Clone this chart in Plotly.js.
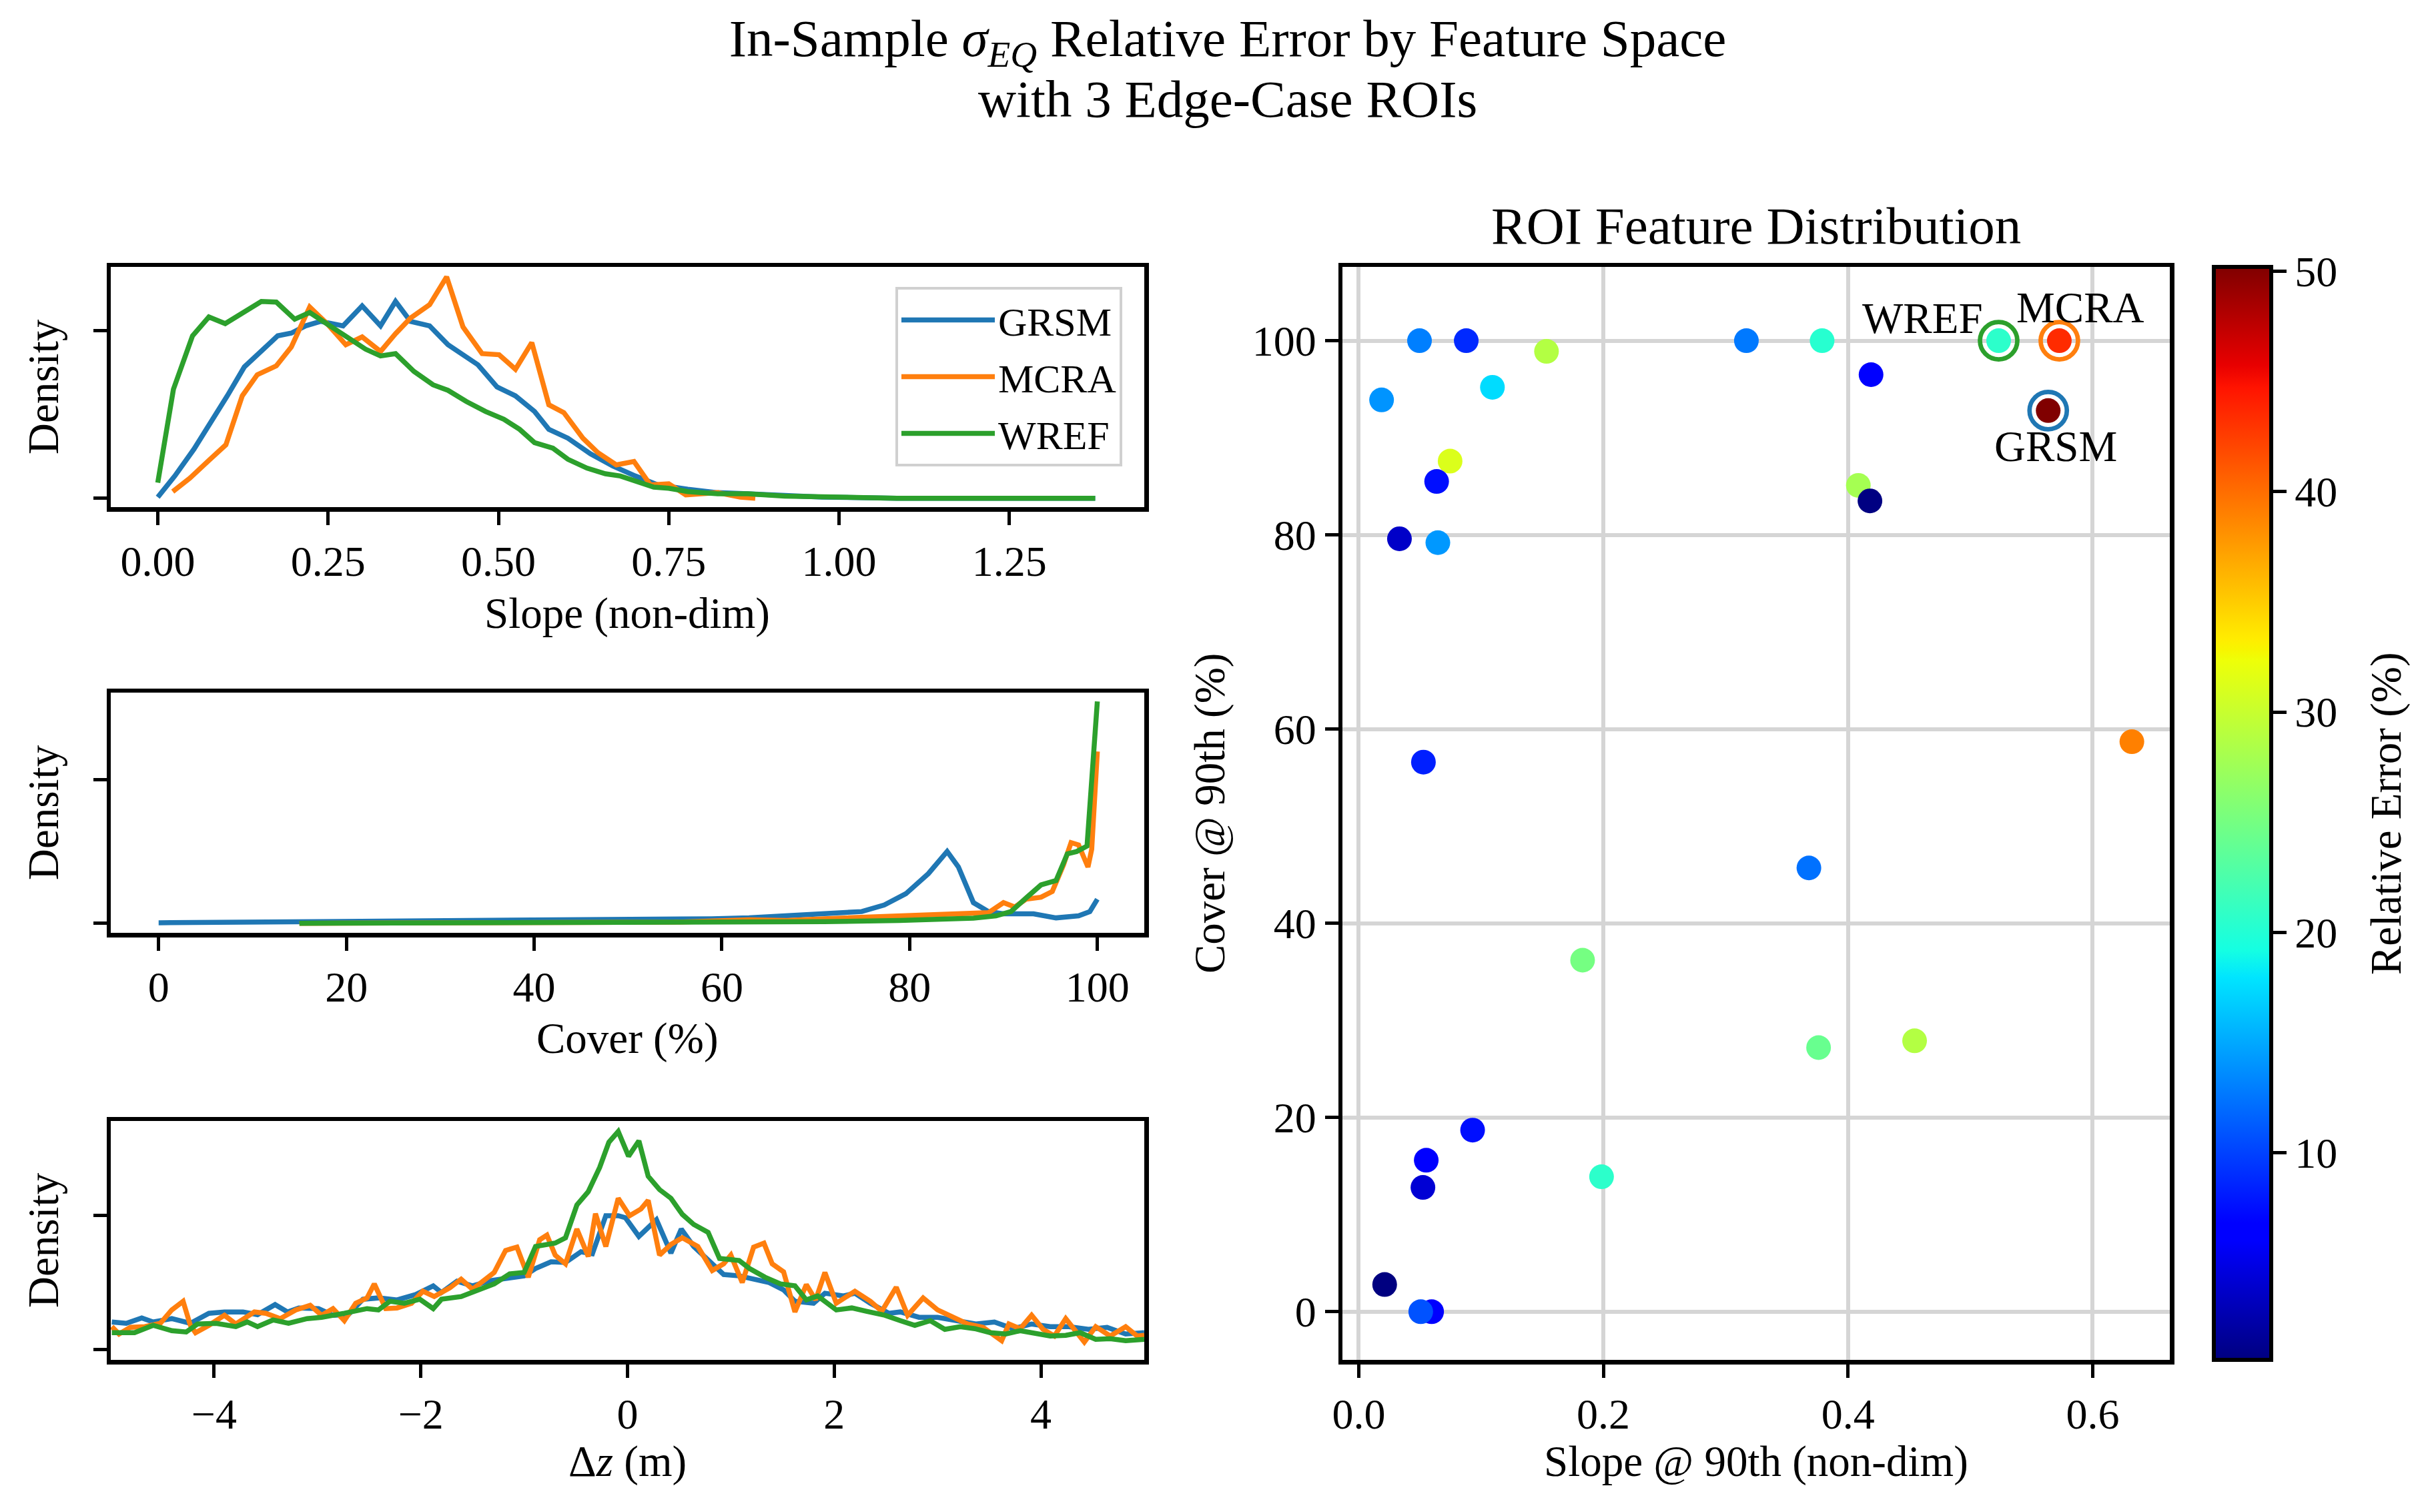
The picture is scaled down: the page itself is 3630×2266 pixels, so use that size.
<!DOCTYPE html>
<html>
<head>
<meta charset="utf-8">
<script src="https://cdn.plot.ly/plotly-3.0.1.min.js"></script>
<style>html,body{margin:0;padding:0;background:#fff;}#chart{width:3630px;height:2266px;}</style>
</head>
<body>
<div id="chart"></div>
<script>
// ---------- Data ----------
const seriesNames = ['GRSM', 'MCRA', 'WREF'];
const seriesColors = ['#1f77b4', '#ff7f0e', '#2ca02c'];

// Slope density
const slopeX_GRSM = [0,0.025,0.053,0.078,0.102,0.127,0.152,0.176,0.196,0.217,0.239,0.272,0.300,0.327,0.349,0.371,0.399,0.426,0.470,0.498,0.525,0.553,0.574,0.602,0.635,0.668,0.701,0.734,0.778,0.822,0.866,0.920,0.975,1.085,1.195,1.376];
const slopeY_GRSM = [0.013,0.265,0.583,0.901,1.219,1.563,1.748,1.934,1.966,2.053,2.106,2.053,2.291,2.053,2.344,2.106,2.053,1.828,1.589,1.325,1.219,1.033,0.821,0.715,0.530,0.384,0.265,0.159,0.106,0.066,0.053,0.026,0.013,0,0,0];
const slopeX_MCRA = [0.022,0.047,0.075,0.100,0.124,0.146,0.174,0.196,0.223,0.250,0.276,0.300,0.327,0.349,0.371,0.399,0.424,0.448,0.476,0.501,0.525,0.549,0.574,0.596,0.624,0.646,0.673,0.699,0.723,0.750,0.775,0.822,0.855,0.877];
const slopeY_MCRA = [0.079,0.238,0.450,0.636,1.219,1.470,1.576,1.801,2.278,2.066,1.828,1.921,1.748,1.960,2.146,2.305,2.636,2.040,1.722,1.709,1.536,1.854,1.113,1.020,0.715,0.543,0.397,0.437,0.159,0.172,0.040,0.066,0.013,0];
const slopeX_WREF = [0,0.023,0.051,0.075,0.099,0.124,0.152,0.174,0.201,0.223,0.250,0.278,0.305,0.327,0.349,0.376,0.404,0.426,0.453,0.481,0.508,0.531,0.553,0.580,0.602,0.630,0.657,0.679,0.707,0.728,0.750,0.778,0.822,0.866,0.920,0.975,1.085,1.376];
const slopeY_WREF = [0.185,1.298,1.934,2.159,2.079,2.199,2.344,2.336,2.132,2.212,2.066,1.907,1.775,1.695,1.722,1.510,1.351,1.285,1.152,1.033,0.940,0.821,0.662,0.596,0.464,0.358,0.291,0.265,0.185,0.132,0.119,0.079,0.053,0.053,0.026,0.013,0,0];

// Cover density
const coverX_GRSM = [0,11.0,15.0,31.0,46.9,58.9,62.9,66.9,70.9,74.9,77.3,79.6,82.0,84.0,85.2,86.8,88.4,90.0,93.2,95.6,98.0,99.2,100];
const coverY_GRSM = [0.0002,0.0004,0.0008,0.0008,0.0010,0.0016,0.0019,0.0026,0.0035,0.0041,0.0064,0.0103,0.0173,0.0250,0.0196,0.0072,0.0041,0.0033,0.0033,0.0019,0.0026,0.0041,0.0084];
const coverX_MCRA = [15.0,38.9,54.9,62.9,66.9,70.9,78.9,82.8,86.8,88.4,90.0,91.2,92.4,94.0,95.2,96.4,97.2,98.0,99.0,99.4,100];
const coverY_MCRA = [0,0.0001,0.0004,0.0012,0.0010,0.0016,0.0026,0.0032,0.0033,0.0037,0.0072,0.0057,0.0084,0.0091,0.0111,0.0204,0.0281,0.0273,0.0196,0.0258,0.0598];
const coverX_WREF = [15.0,38.9,54.9,70.9,78.9,82.8,86.8,89.2,90.8,92.4,94.0,95.6,96.8,97.8,98.9,100];
const coverY_WREF = [0,0.0001,0.0002,0.0006,0.0010,0.0012,0.0018,0.0026,0.0041,0.0088,0.0134,0.0149,0.0242,0.0250,0.0269,0.0772];

// Delta-z density
const dzX_GRSM = [-4.99,-4.85,-4.70,-4.59,-4.41,-4.23,-4.05,-3.90,-3.72,-3.58,-3.41,-3.29,-3.18,-2.99,-2.85,-2.70,-2.56,-2.41,-2.23,-2.05,-1.88,-1.80,-1.65,-1.50,-1.32,-1.14,-1.00,-0.89,-0.74,-0.60,-0.45,-0.34,-0.21,-0.09,-0.02,0.11,0.28,0.42,0.52,0.64,0.79,0.93,1.08,1.22,1.37,1.51,1.62,1.80,1.91,2.09,2.20,2.35,2.53,2.64,2.82,3.00,3.18,3.37,3.55,3.73,3.91,4.09,4.27,4.46,4.64,4.82,5.0];
const dzY_GRSM = [0.041,0.039,0.047,0.041,0.046,0.039,0.054,0.056,0.056,0.052,0.067,0.056,0.062,0.061,0.051,0.052,0.075,0.077,0.074,0.082,0.095,0.085,0.102,0.095,0.103,0.108,0.110,0.121,0.131,0.130,0.146,0.143,0.200,0.200,0.197,0.169,0.194,0.144,0.180,0.154,0.131,0.112,0.110,0.105,0.100,0.089,0.072,0.069,0.084,0.080,0.084,0.069,0.054,0.056,0.048,0.048,0.043,0.038,0.041,0.031,0.038,0.034,0.034,0.030,0.033,0.023,0.025];
const dzX_MCRA = [-4.99,-4.92,-4.81,-4.67,-4.52,-4.41,-4.30,-4.23,-4.18,-4.05,-3.90,-3.79,-3.61,-3.50,-3.36,-3.21,-3.07,-2.96,-2.85,-2.74,-2.63,-2.52,-2.45,-2.34,-2.23,-2.09,-1.98,-1.87,-1.72,-1.61,-1.50,-1.40,-1.29,-1.18,-1.07,-0.96,-0.85,-0.78,-0.70,-0.60,-0.49,-0.38,-0.31,-0.21,-0.09,0.02,0.13,0.20,0.31,0.42,0.53,0.68,0.82,0.93,1.00,1.11,1.22,1.32,1.40,1.51,1.62,1.73,1.82,1.91,2.02,2.20,2.35,2.46,2.60,2.71,2.86,3.00,3.15,3.29,3.44,3.62,3.69,3.80,3.91,4.02,4.13,4.24,4.42,4.53,4.67,4.82,4.93,5.0];
const dzY_MCRA = [0.034,0.023,0.033,0.034,0.039,0.059,0.072,0.036,0.025,0.036,0.051,0.038,0.056,0.054,0.046,0.059,0.066,0.051,0.061,0.043,0.069,0.077,0.098,0.061,0.062,0.069,0.087,0.079,0.092,0.105,0.090,0.102,0.115,0.148,0.153,0.108,0.164,0.171,0.141,0.128,0.180,0.139,0.203,0.154,0.226,0.200,0.210,0.223,0.141,0.157,0.167,0.154,0.118,0.128,0.141,0.100,0.153,0.159,0.128,0.116,0.056,0.097,0.074,0.115,0.069,0.087,0.072,0.057,0.093,0.051,0.077,0.059,0.049,0.038,0.033,0.013,0.038,0.031,0.051,0.030,0.020,0.046,0.011,0.034,0.020,0.034,0.020,0.021];
const dzX_WREF = [-4.99,-4.77,-4.59,-4.41,-4.27,-4.16,-3.98,-3.79,-3.68,-3.58,-3.43,-3.28,-3.10,-2.96,-2.74,-2.52,-2.41,-2.30,-2.16,-2.01,-1.88,-1.80,-1.61,-1.43,-1.29,-1.14,-1.00,-0.89,-0.70,-0.60,-0.49,-0.38,-0.27,-0.18,-0.09,0.01,0.11,0.20,0.31,0.42,0.53,0.64,0.78,0.89,1.08,1.18,1.33,1.48,1.62,1.73,1.84,2.02,2.17,2.31,2.49,2.64,2.78,2.93,3.07,3.22,3.36,3.51,3.66,3.80,3.95,4.09,4.24,4.38,4.53,4.67,4.82,5.0];
const dzY_WREF = [0.025,0.025,0.036,0.028,0.026,0.038,0.039,0.034,0.041,0.034,0.044,0.039,0.046,0.048,0.054,0.061,0.059,0.072,0.069,0.075,0.061,0.075,0.079,0.089,0.098,0.113,0.115,0.154,0.159,0.167,0.216,0.236,0.272,0.310,0.326,0.289,0.312,0.259,0.239,0.226,0.202,0.187,0.175,0.136,0.133,0.121,0.108,0.098,0.095,0.074,0.080,0.059,0.062,0.057,0.051,0.043,0.036,0.043,0.030,0.034,0.031,0.025,0.023,0.028,0.023,0.020,0.021,0.025,0.015,0.016,0.013,0.015];

// ROI scatter: slope @ 90th, cover @ 90th, relative error (%)
const roiSlope = [0.0497,0.0879,0.1535,0.3169,0.3788,0.5231,0.5727,0.5636,0.4188,0.1093,0.0187,0.0747,0.0637,0.4084,0.4179,0.0333,0.0647,0.0529,0.632,0.368,0.183,0.3759,0.4544,0.0931,0.0552,0.0525,0.1985,0.0212,0.0596,0.0507];
const roiCover = [100,100,98.9,100,100,100,100,92.8,96.5,95.2,93.9,87.6,85.5,85.1,83.5,79.6,79.2,56.6,58.7,45.7,36.2,27.2,27.9,18.7,15.6,12.8,13.9,2.8,0,0];
const roiError = [13.0,8.8,28.8,12.7,20.3,20.6,43.5,50.2,6.3,17.5,14.0,31.2,7.5,27.9,0.7,3.7,14.2,8.3,39.0,12.3,25.0,24.2,28.8,7.5,6.8,4.2,20.6,0.6,6.0,10.8];

// Edge-case ROIs: name, index into ROI arrays, label position
const edgeNames = ['GRSM', 'MCRA', 'WREF'];
const edgeIndex = [7, 6, 5];
const edgeLabelX = [0.570, 0.590, 0.461];
const edgeLabelY = [89.1, 103.4, 102.3];

// Tick values
const slopeTicks = [0, 0.25, 0.5, 0.75, 1.0, 1.25];
const coverTicks = [0, 20, 40, 60, 80, 100];
const dzTicks = [-4, -2, 0, 2, 4];
const scatXTicks = [0, 0.2, 0.4, 0.6];
const scatYTicks = [0, 20, 40, 60, 80, 100];
const cbarTicks = [10, 20, 30, 40, 50];

// ---------- Build ----------
const FONT = "'Liberation Serif', 'Times New Roman', serif";
const W = 3630, H = 2266;
const px = v => v / W;
const py = v => 1 - v / H;

const jet = [
  [0, 'rgb(0,0,128)'], [0.11, 'rgb(0,0,255)'], [0.125, 'rgb(0,0,255)'],
  [0.34, 'rgb(0,219,255)'], [0.35, 'rgb(0,229,255)'], [0.375, 'rgb(21,255,226)'],
  [0.64, 'rgb(238,255,8)'], [0.65, 'rgb(247,245,0)'], [0.66, 'rgb(255,236,0)'],
  [0.89, 'rgb(255,19,0)'], [0.91, 'rgb(232,0,0)'], [1, 'rgb(128,0,0)']
];

const slopeData = [[slopeX_GRSM, slopeY_GRSM], [slopeX_MCRA, slopeY_MCRA], [slopeX_WREF, slopeY_WREF]];
const coverData = [[coverX_GRSM, coverY_GRSM], [coverX_MCRA, coverY_MCRA], [coverX_WREF, coverY_WREF]];
const dzData = [[dzX_GRSM, dzY_GRSM], [dzX_MCRA, dzY_MCRA], [dzX_WREF, dzY_WREF]];

const traces = [];
[[slopeData, 'x', 'y', true], [coverData, 'x2', 'y2', false], [dzData, 'x3', 'y3', false]].forEach(([set, xa, ya, leg]) => {
  set.forEach((d, i) => {
    traces.push({
      type: 'scatter', mode: 'lines', x: d[0], y: d[1], xaxis: xa, yaxis: ya,
      name: seriesNames[i], showlegend: leg, legendgroup: seriesNames[i],
      line: { color: seriesColors[i], width: 7.5 }
    });
  });
});

traces.push({
  type: 'scatter', mode: 'markers', x: roiSlope, y: roiCover, xaxis: 'x4', yaxis: 'y4',
  showlegend: false, name: 'ROIs',
  marker: {
    size: 37, color: roiError, colorscale: jet, line: { width: 0 }, opacity: 1,
    colorbar: {
      x: px(3318), xanchor: 'left', y: py(2038), yanchor: 'bottom',
      len: (2038 - 400) / H, lenmode: 'fraction', thickness: 86, thicknessmode: 'pixels',
      xpad: 0, ypad: 0, outlinewidth: 6, outlinecolor: '#000',
      tickvals: cbarTicks, ticks: 'outside', ticklen: 20, tickwidth: 5, tickcolor: '#000',
      tickfont: { family: FONT, size: 64, color: '#000' }
    }
  }
});

edgeNames.forEach((n, k) => {
  const idx = edgeIndex[k];
  traces.push({
    type: 'scatter', mode: 'markers', x: [roiSlope[idx]], y: [roiCover[idx]], xaxis: 'x4', yaxis: 'y4',
    showlegend: false, name: n + ' ROI', hoverinfo: 'skip',
    marker: { symbol: 'circle-open', size: 56, color: seriesColors[seriesNames.indexOf(n)], line: { width: 6.7 } }
  });
});

const axBase = {
  showline: true, mirror: true, linecolor: '#000', linewidth: 6.5,
  ticks: 'outside', ticklen: 20, tickwidth: 5, tickcolor: '#000',
  zeroline: false, showgrid: false,
  tickfont: { family: FONT, size: 64, color: '#000' }
};
const leftDom = [px(166), px(1715)];

const layout = {
  width: W, height: H,
  margin: { l: 0, r: 0, t: 0, b: 0 },
  paper_bgcolor: '#fff', plot_bgcolor: '#fff',
  font: { family: FONT, color: '#000' },
  title: {
    text: 'In-Sample <i>σ</i><sub><i>EQ</i></sub> Relative Error by Feature Space',
    x: px(1840), xanchor: 'center', xref: 'paper', y: 1 - 56 / H, yref: 'container', yanchor: 'middle',
    font: { family: FONT, size: 79, color: '#000' }
  },
  xaxis: Object.assign({}, axBase, { domain: leftDom, anchor: 'y', range: [-0.069, 1.448], tickvals: slopeTicks, tickformat: '.2f' }),
  yaxis: Object.assign({}, axBase, { domain: [py(760), py(400)], anchor: 'x', range: [-0.106, 2.755], tickvals: [0, 2], showticklabels: false }),
  xaxis2: Object.assign({}, axBase, { domain: leftDom, anchor: 'y2', range: [-5.1, 105], tickvals: coverTicks }),
  yaxis2: Object.assign({}, axBase, { domain: [py(1398), py(1038)], anchor: 'x2', range: [-0.0033, 0.0803], tickvals: [0, 0.05], showticklabels: false }),
  xaxis3: Object.assign({}, axBase, { domain: leftDom, anchor: 'y3', range: [-5, 5], tickvals: dzTicks }),
  yaxis3: Object.assign({}, axBase, { domain: [py(2038), py(1680)], anchor: 'x3', range: [-0.0157, 0.3417], tickvals: [0, 0.2], showticklabels: false }),
  xaxis4: Object.assign({}, axBase, { domain: [px(2012), px(3252)], anchor: 'y4', range: [-0.0133, 0.663], tickvals: scatXTicks, tickformat: '.1f', showgrid: true, gridcolor: '#d5d5d5', gridwidth: 6 }),
  yaxis4: Object.assign({}, axBase, { domain: [py(2038), py(400)], anchor: 'x4', range: [-4.96, 107.6], tickvals: scatYTicks, showgrid: true, gridcolor: '#d5d5d5', gridwidth: 6 }),
  legend: {
    x: px(1682), xanchor: 'right', y: py(430), yanchor: 'top',
    bgcolor: 'rgba(255,255,255,0.9)', bordercolor: '#d0d0d0', borderwidth: 4,
    font: { family: FONT, size: 60, color: '#000' }, itemwidth: 140, tracegroupgap: 4
  },
  annotations: []
};

const ann = (text, x, y, size, angle) => ({
  text: text, x: x, y: y, xref: 'paper', yref: 'paper', showarrow: false,
  xanchor: 'center', yanchor: 'middle', textangle: angle || 0,
  font: { family: FONT, size: size, color: '#000' }
});
layout.annotations.push(ann('with 3 Edge-Case ROIs', px(1840), py(148), 79));
layout.annotations.push(ann('Density', px(65), py(580), 65, -90));
layout.annotations.push(ann('Density', px(65), py(1218), 65, -90));
layout.annotations.push(ann('Density', px(65), py(1859), 65, -90));
layout.annotations.push(ann('Slope (non-dim)', px(940), py(919), 65));
layout.annotations.push(ann('Cover (%)', px(940), py(1556), 65));
layout.annotations.push(ann('Δ<i>z</i> (m)', px(940), py(2190), 65));
layout.annotations.push(ann('Slope @ 90th (non-dim)', px(2632), py(2190), 65));
layout.annotations.push(ann('Cover @ 90th (%)', px(1813), py(1219), 65, -90));
layout.annotations.push(ann('ROI Feature Distribution', px(2632), py(338), 79));
layout.annotations.push(ann('Relative Error (%)', px(3576), py(1219), 65, -90));
edgeNames.forEach((n, k) => {
  layout.annotations.push({
    text: n, x: edgeLabelX[k], y: edgeLabelY[k], xref: 'x4', yref: 'y4', showarrow: false,
    xanchor: 'center', yanchor: 'middle', font: { family: FONT, size: 65, color: '#000' }
  });
});

Plotly.newPlot('chart', traces, layout, { staticPlot: true, displayModeBar: false });
</script>
</body>
</html>
